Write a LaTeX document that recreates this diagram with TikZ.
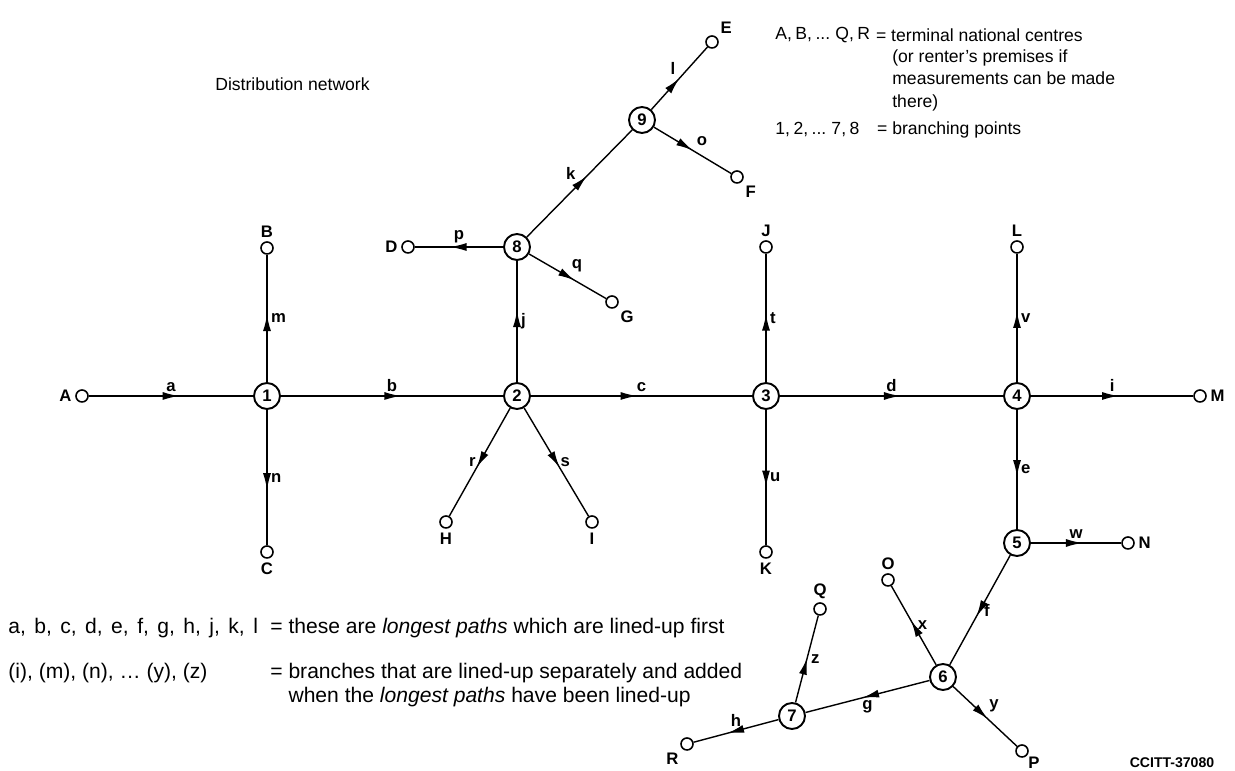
\documentclass[tikz,border=0pt]{standalone}
\usepackage{fontspec}
\setmainfont{Liberation Sans}
\usetikzlibrary{arrows.meta,positioning,decorations.markings}
\newcommand\tightsp{\spaceskip=0.2em\relax}
\newcommand\widesp{\spaceskip=0.4em\relax}

\begin{document}
\begin{tikzpicture}[
  >=Latex,
  font=\fontsize{10}{12.8}\selectfont,
  branch/.style={circle, draw, line width=1.1pt, minimum size=0.52cm,
                 inner sep=0pt, font=\fontsize{9.5}{11}\selectfont\bfseries},
  term/.style={circle, draw, line width=0.9pt, minimum size=0.24cm, inner sep=0pt},
  every label/.style={font=\fontsize{9.5}{11}\selectfont\bfseries, inner sep=2pt},
  link/.style={line width=0.8pt, postaction={decorate},
               decoration={markings, mark=at position #1 with
                 {\arrow{Latex[length=3.3mm,width=1.6mm]}}}},
  link/.default=0.55,
  elab/.style={font=\fontsize{9.5}{11}\selectfont\bfseries, inner sep=2pt},
  key/.style={anchor=west, inner sep=0pt},
  tight/.style={key, font=\fontsize{10}{12.8}\selectfont\tightsp},
  note/.style={anchor=west, inner sep=0pt, font=\fontsize{12}{13.6}\selectfont}]
\useasboundingbox (0,0) rectangle (24.7,15.42);
% branching points
\node[branch] (n1) at (5.34,7.50)   {1};
\node[branch] (n2) at (10.34,7.50)  {2};
\node[branch] (n3) at (15.32,7.50)  {3};
\node[branch] (n4) at (20.34,7.50)  {4};
\node[branch] (n5) at (20.34,4.56)  {5};
\node[branch] (n6) at (18.86,1.88)  {6};
\node[branch] (n7) at (15.84,1.10)  {7};
\node[branch] (n8) at (10.34,10.48) {8};
\node[branch] (n9) at (12.84,13.02) {9};
% terminal centres
\node[term, label={left:A}]        (A) at (1.64,7.50)   {};
\node[term, label={above:B}]       (B) at (5.34,10.46)  {};
\node[term, label={below:C}]       (C) at (5.34,4.38)   {};
\node[term, label={left:D}]        (D) at (8.16,10.48)  {};
\node[term, label={above right:E}] (E) at (14.24,14.58) {};
\node[term, label={below right:F}] (F) at (14.74,11.88) {};
\node[term, label={below right:G}] (G) at (12.24,9.38)  {};
\node[term, label={below:H}]       (H) at (8.92,4.98)   {};
\node[term, label={below:I}]       (I) at (11.84,4.98)  {};
\node[term, label={above:J}]       (J) at (15.32,10.48) {};
\node[term, label={below:K}]       (K) at (15.32,4.38)  {};
\node[term, label={above:L}]       (L) at (20.34,10.48) {};
\node[term, label={right:M}]       (M) at (24.00,7.50)  {};
\node[term, label={right:N}]       (N) at (22.56,4.56)  {};
\node[term, label={above:O}]       (O) at (17.76,3.82)  {};
\node[term, label={[inner sep=0.5pt]-40:P}] (P) at (20.44,0.40) {};
\node[term, label={above:Q}]       (Q) at (16.40,3.24)  {};
\node[term, label={below left:R}]  (R) at (13.74,0.54)  {};
% longest paths
\draw[link] (A) -- node[elab,above]{a} (n1);
\draw[link=0.54] (n1) -- node[elab,above]{b} (n2);
\draw[link=0.48] (n2) -- node[elab,above]{c} (n3);
\draw[link=0.54] (n3) -- node[elab,above]{d} (n4);
\draw[link=0.56] (n4) -- node[elab,right]{e} (n5);
\draw[link=0.56] (n5) -- node[elab,right]{f} (n6);
\draw[link=0.54] (n6) -- node[elab,below]{g} (n7);
\draw[link=0.6]  (n7) -- node[elab,above]{h} (R);
\draw[link=0.59] (n2) -- node[elab,right]{j} (n8);
\draw[link=0.57] (n8) -- node[elab,above left]{k} (n9);
\draw[link=0.5]  (n9) -- node[elab,above left]{l} (E);
% branches
\draw[link=0.54] (n4) -- node[elab,above]{i} (M);
\draw[link=0.53] (n1) -- node[elab,right]{m} (B);
\draw[link=0.59] (n1) -- node[elab,right]{n} (C);
\draw[link=0.5]  (n9) -- node[elab,above right]{o} (F);
\draw[link=0.6]  (n8) -- node[elab,above]{p} (D);
\draw[link=0.59] (n8) -- node[elab,above right]{q} (G);
\draw[link]      (n2) -- node[elab,left]{r} (H);
\draw[link]      (n2) -- node[elab,right]{s} (I);
\draw[link=0.53] (n3) -- node[elab,right]{t} (J);
\draw[link=0.57] (n3) -- node[elab,right]{u} (K);
\draw[link]      (n4) -- node[elab,right]{v} (L);
\draw[link=0.57] (n5) -- node[elab,above]{w} (N);
\draw[link=0.56] (n6) -- node[elab,right]{x} (O);
\draw[link=0.54] (n6) -- node[elab,above right]{y} (P);
\draw[link=0.51] (n7) -- node[elab,right]{z} (Q);
% texts
\node[key] (title) at (4.30,13.74) {Distribution network};
\node[tight] (keyA) at (15.50,14.72) {A, B, ... Q, R};
\node[key, right=3pt of keyA] (keyA1) {= terminal national centres};
\node[key, align=left] (keyA2) at (17.84,13.82)
  {(or renter's premises if\\measurements can be made\\there)};
\node[tight] (keyN) at (15.50,12.82) {1, 2, ... 7, 8};
\node[key] (keyN2) at (keyA2.west |- keyN.west) {\llap{= }branching points};
\node[note] (longest) at (0.16,2.86) {\widesp a, b, c, d, e, f, g, h, j, k, l};
\node[note] (longest2) at (5.40,2.86)
  {= these are \textit{longest paths} which are lined-up first};
\node[note] (sep) at (0.16,1.96) {(i), (m), (n), … (y), (z)};
\node[note, align=left] (sep2) at (5.40,1.72)
  {= branches that are lined-up separately and added\\
   \hphantom{=}\ when the \textit{longest paths} have been lined-up};
\node[font=\fontsize{8}{10}\selectfont\bfseries] (fig) at (23.44,0.16) {CCITT-37080};
\end{tikzpicture}
\end{document}
